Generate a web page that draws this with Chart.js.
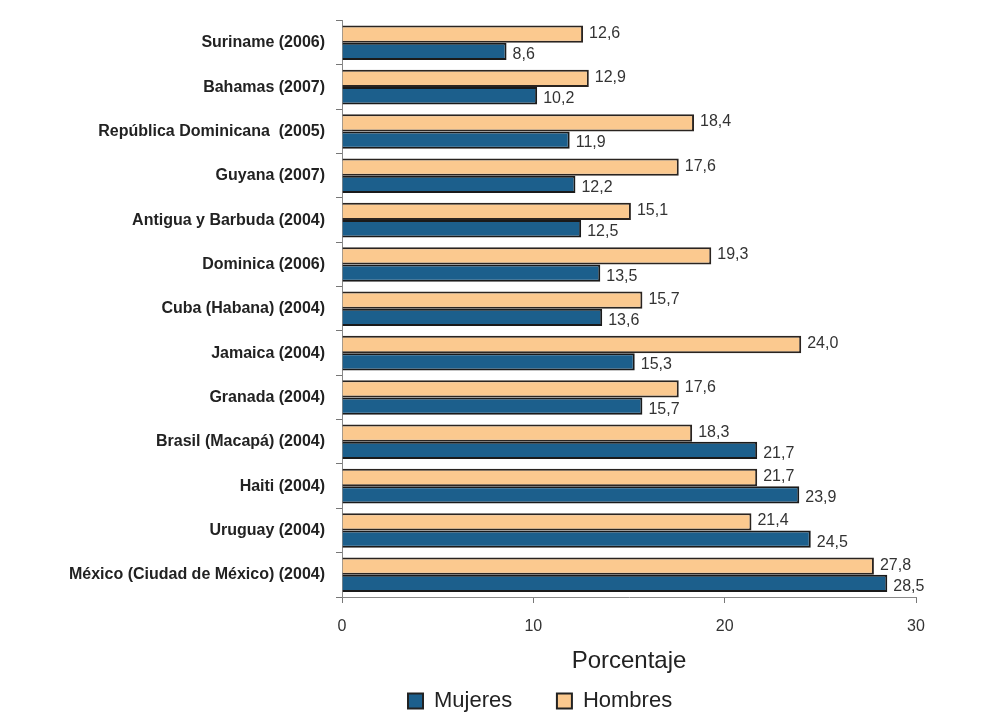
<!DOCTYPE html>
<html>
<head>
<meta charset="utf-8">
<script src="https://cdn.jsdelivr.net/npm/chart.js@4/dist/chart.umd.min.js"></script>
<style>
  html, body { margin: 0; padding: 0; background: #ffffff; }
  #wrap { width: 1001px; height: 722px; }
</style>
</head>
<body>
<div id="wrap"><canvas id="chart"></canvas></div>
<script>
/* ---------- DATA ---------- */
const countries = [
  "Suriname (2006)",
  "Bahamas (2007)",
  "República Dominicana  (2005)",
  "Guyana (2007)",
  "Antigua y Barbuda (2004)",
  "Dominica (2006)",
  "Cuba (Habana) (2004)",
  "Jamaica (2004)",
  "Granada (2004)",
  "Brasil (Macapá) (2004)",
  "Haiti (2004)",
  "Uruguay (2004)",
  "México (Ciudad de México) (2004)"
];
const hombres = [12.6, 12.9, 18.4, 17.6, 15.1, 19.3, 15.7, 24.0, 17.6, 18.3, 21.7, 21.4, 27.8];
const mujeres = [8.6, 10.2, 11.9, 12.2, 12.5, 13.5, 13.6, 15.3, 15.7, 21.7, 23.9, 24.5, 28.5];
const xTicks = [0, 10, 20, 30];

const FONT = "'Liberation Sans', Arial, sans-serif";

// value labels after each bar, comma decimal
const valueLabels = {
  id: "valueLabels",
  afterDatasetsDraw(chart) {
    const ctx = chart.ctx;
    ctx.save();
    ctx.font = "16px " + FONT;
    ctx.fillStyle = "#333333";
    ctx.textBaseline = "middle";
    ctx.textAlign = "left";
    chart.data.datasets.forEach((ds, i) => {
      const meta = chart.getDatasetMeta(i);
      const dy = i === 0 ? -1 : 3;
      meta.data.forEach((bar, j) => {
        const txt = ds.data[j].toFixed(1).replace(".", ",");
        ctx.fillText(txt, bar.x + 6, bar.y + dy);
      });
    });
    ctx.restore();
  }
};

// legend sits under the middle of the plot, not the page
const legendShift = {
  id: "legendShift",
  afterLayout(chart) {
    chart.legend.left += 400;
    chart.legend.right += 400;
  }
};

new Chart(document.getElementById("chart"), {
  type: "bar",
  data: {
    labels: countries,
    datasets: [
      {
        label: "Hombres",
        data: hombres,
        backgroundColor: "#fbc98f",
        borderColor: "#2a2420",
        borderWidth: 2,
        borderSkipped: "left",
        categoryPercentage: 0.78,
        barPercentage: 1.0
      },
      {
        label: "Mujeres",
        data: mujeres,
        backgroundColor: "#1c5f8c",
        borderColor: "#1a1a1a",
        borderWidth: 2,
        borderSkipped: "left",
        categoryPercentage: 0.78,
        barPercentage: 1.0
      }
    ]
  },
  options: {
    indexAxis: "y",
    responsive: true,
    maintainAspectRatio: false,
    animation: false,
    layout: { padding: { left: 0, right: 85, top: 18, bottom: 0 } },
    plugins: {
      legend: {
        position: "bottom",
        align: "start",
        reverse: true,
        labels: {
          color: "#222222",
          font: { family: FONT, size: 22 },
          boxWidth: 15,
          boxHeight: 15,
          padding: 8,
          generateLabels: chart => {
            const items = Chart.defaults.plugins.legend.labels.generateLabels(chart);
            items.forEach(it => {
              it.lineWidth = 2;
              it.strokeStyle = "#222222";
              if (it.text === "Mujeres") it.text = "Mujeres      ";
            });
            return items;
          }
        }
      },
      tooltip: { enabled: false }
    },
    scales: {
      y: {
        grid: { display: true, drawOnChartArea: false, offset: true, tickLength: 6, color: "#777777" },
        border: { display: true, color: "#888888", width: 1 },
        ticks: {
          color: "#222222",
          padding: 11,
          font: { family: FONT, size: 16, weight: "bold" }
        },
        afterFit: scale => { scale.width = 342; }
      },
      x: {
        min: 0,
        max: 30,
        afterBuildTicks: scale => { scale.ticks = xTicks.map(v => ({ value: v })); },
        grid: { display: true, drawOnChartArea: false, tickLength: 6, color: "#777777" },
        border: { display: true, color: "#888888", width: 1 },
        ticks: {
          color: "#333333",
          padding: 14,
          font: { family: FONT, size: 16 }
        },
        title: {
          display: true,
          text: "Porcentaje",
          color: "#222222",
          font: { family: FONT, size: 24 },
          padding: { top: 6, bottom: 6 }
        },
        afterFit: scale => { scale.height = 85; }
      }
    }
  },
  plugins: [valueLabels, legendShift]
});
</script>
</body>
</html>
